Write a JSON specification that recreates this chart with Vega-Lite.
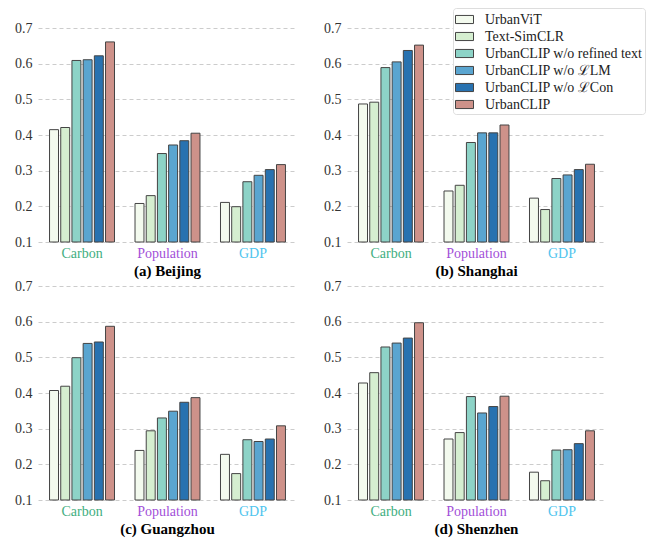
{
  "$schema": "https://vega.github.io/schema/vega-lite/v6.json",
  "padding": {"left": 14, "top": 7, "right": 5, "bottom": 4},
  "background": "white",
  "datasets": {
    "d": [
      {"city": "Beijing", "metric": "Carbon", "model": "UrbanViT", "value": 0.415},
      {"city": "Beijing", "metric": "Carbon", "model": "Text-SimCLR", "value": 0.421},
      {"city": "Beijing", "metric": "Carbon", "model": "UrbanCLIP w/o refined text", "value": 0.609},
      {"city": "Beijing", "metric": "Carbon", "model": "UrbanCLIP w/o ℒLM", "value": 0.611},
      {"city": "Beijing", "metric": "Carbon", "model": "UrbanCLIP w/o ℒCon", "value": 0.622},
      {"city": "Beijing", "metric": "Carbon", "model": "UrbanCLIP", "value": 0.661},
      {"city": "Beijing", "metric": "Population", "model": "UrbanViT", "value": 0.208},
      {"city": "Beijing", "metric": "Population", "model": "Text-SimCLR", "value": 0.230},
      {"city": "Beijing", "metric": "Population", "model": "UrbanCLIP w/o refined text", "value": 0.348},
      {"city": "Beijing", "metric": "Population", "model": "UrbanCLIP w/o ℒLM", "value": 0.372},
      {"city": "Beijing", "metric": "Population", "model": "UrbanCLIP w/o ℒCon", "value": 0.384},
      {"city": "Beijing", "metric": "Population", "model": "UrbanCLIP", "value": 0.405},
      {"city": "Beijing", "metric": "GDP", "model": "UrbanViT", "value": 0.211},
      {"city": "Beijing", "metric": "GDP", "model": "Text-SimCLR", "value": 0.199},
      {"city": "Beijing", "metric": "GDP", "model": "UrbanCLIP w/o refined text", "value": 0.269},
      {"city": "Beijing", "metric": "GDP", "model": "UrbanCLIP w/o ℒLM", "value": 0.287},
      {"city": "Beijing", "metric": "GDP", "model": "UrbanCLIP w/o ℒCon", "value": 0.303},
      {"city": "Beijing", "metric": "GDP", "model": "UrbanCLIP", "value": 0.317},
      {"city": "Shanghai", "metric": "Carbon", "model": "UrbanViT", "value": 0.487},
      {"city": "Shanghai", "metric": "Carbon", "model": "Text-SimCLR", "value": 0.492},
      {"city": "Shanghai", "metric": "Carbon", "model": "UrbanCLIP w/o refined text", "value": 0.589},
      {"city": "Shanghai", "metric": "Carbon", "model": "UrbanCLIP w/o ℒLM", "value": 0.605},
      {"city": "Shanghai", "metric": "Carbon", "model": "UrbanCLIP w/o ℒCon", "value": 0.637},
      {"city": "Shanghai", "metric": "Carbon", "model": "UrbanCLIP", "value": 0.652},
      {"city": "Shanghai", "metric": "Population", "model": "UrbanViT", "value": 0.243},
      {"city": "Shanghai", "metric": "Population", "model": "Text-SimCLR", "value": 0.259},
      {"city": "Shanghai", "metric": "Population", "model": "UrbanCLIP w/o refined text", "value": 0.379},
      {"city": "Shanghai", "metric": "Population", "model": "UrbanCLIP w/o ℒLM", "value": 0.406},
      {"city": "Shanghai", "metric": "Population", "model": "UrbanCLIP w/o ℒCon", "value": 0.406},
      {"city": "Shanghai", "metric": "Population", "model": "UrbanCLIP", "value": 0.428},
      {"city": "Shanghai", "metric": "GDP", "model": "UrbanViT", "value": 0.223},
      {"city": "Shanghai", "metric": "GDP", "model": "Text-SimCLR", "value": 0.191},
      {"city": "Shanghai", "metric": "GDP", "model": "UrbanCLIP w/o refined text", "value": 0.278},
      {"city": "Shanghai", "metric": "GDP", "model": "UrbanCLIP w/o ℒLM", "value": 0.288},
      {"city": "Shanghai", "metric": "GDP", "model": "UrbanCLIP w/o ℒCon", "value": 0.303},
      {"city": "Shanghai", "metric": "GDP", "model": "UrbanCLIP", "value": 0.318},
      {"city": "Guangzhou", "metric": "Carbon", "model": "UrbanViT", "value": 0.407},
      {"city": "Guangzhou", "metric": "Carbon", "model": "Text-SimCLR", "value": 0.419},
      {"city": "Guangzhou", "metric": "Carbon", "model": "UrbanCLIP w/o refined text", "value": 0.499},
      {"city": "Guangzhou", "metric": "Carbon", "model": "UrbanCLIP w/o ℒLM", "value": 0.539},
      {"city": "Guangzhou", "metric": "Carbon", "model": "UrbanCLIP w/o ℒCon", "value": 0.543},
      {"city": "Guangzhou", "metric": "Carbon", "model": "UrbanCLIP", "value": 0.587},
      {"city": "Guangzhou", "metric": "Population", "model": "UrbanViT", "value": 0.239},
      {"city": "Guangzhou", "metric": "Population", "model": "Text-SimCLR", "value": 0.294},
      {"city": "Guangzhou", "metric": "Population", "model": "UrbanCLIP w/o refined text", "value": 0.330},
      {"city": "Guangzhou", "metric": "Population", "model": "UrbanCLIP w/o ℒLM", "value": 0.349},
      {"city": "Guangzhou", "metric": "Population", "model": "UrbanCLIP w/o ℒCon", "value": 0.374},
      {"city": "Guangzhou", "metric": "Population", "model": "UrbanCLIP", "value": 0.387},
      {"city": "Guangzhou", "metric": "GDP", "model": "UrbanViT", "value": 0.228},
      {"city": "Guangzhou", "metric": "GDP", "model": "Text-SimCLR", "value": 0.174},
      {"city": "Guangzhou", "metric": "GDP", "model": "UrbanCLIP w/o refined text", "value": 0.269},
      {"city": "Guangzhou", "metric": "GDP", "model": "UrbanCLIP w/o ℒLM", "value": 0.264},
      {"city": "Guangzhou", "metric": "GDP", "model": "UrbanCLIP w/o ℒCon", "value": 0.271},
      {"city": "Guangzhou", "metric": "GDP", "model": "UrbanCLIP", "value": 0.308},
      {"city": "Shenzhen", "metric": "Carbon", "model": "UrbanViT", "value": 0.428},
      {"city": "Shenzhen", "metric": "Carbon", "model": "Text-SimCLR", "value": 0.457},
      {"city": "Shenzhen", "metric": "Carbon", "model": "UrbanCLIP w/o refined text", "value": 0.529},
      {"city": "Shenzhen", "metric": "Carbon", "model": "UrbanCLIP w/o ℒLM", "value": 0.540},
      {"city": "Shenzhen", "metric": "Carbon", "model": "UrbanCLIP w/o ℒCon", "value": 0.554},
      {"city": "Shenzhen", "metric": "Carbon", "model": "UrbanCLIP", "value": 0.597},
      {"city": "Shenzhen", "metric": "Population", "model": "UrbanViT", "value": 0.271},
      {"city": "Shenzhen", "metric": "Population", "model": "Text-SimCLR", "value": 0.289},
      {"city": "Shenzhen", "metric": "Population", "model": "UrbanCLIP w/o refined text", "value": 0.390},
      {"city": "Shenzhen", "metric": "Population", "model": "UrbanCLIP w/o ℒLM", "value": 0.344},
      {"city": "Shenzhen", "metric": "Population", "model": "UrbanCLIP w/o ℒCon", "value": 0.362},
      {"city": "Shenzhen", "metric": "Population", "model": "UrbanCLIP", "value": 0.391},
      {"city": "Shenzhen", "metric": "GDP", "model": "UrbanViT", "value": 0.178},
      {"city": "Shenzhen", "metric": "GDP", "model": "Text-SimCLR", "value": 0.154},
      {"city": "Shenzhen", "metric": "GDP", "model": "UrbanCLIP w/o refined text", "value": 0.240},
      {"city": "Shenzhen", "metric": "GDP", "model": "UrbanCLIP w/o ℒLM", "value": 0.241},
      {"city": "Shenzhen", "metric": "GDP", "model": "UrbanCLIP w/o ℒCon", "value": 0.258},
      {"city": "Shenzhen", "metric": "GDP", "model": "UrbanCLIP", "value": 0.294}
    ]
  },
  "columns": 2,
  "spacing": {"row": 0, "column": 26},
  "resolve": {"legend": {"color": "independent"}},
  "concat": [
    {
      "title": {"text": "(a) Beijing", "font": "Liberation Serif"},
      "width": 259, "height": 214,
      "data": {"name": "d"},
      "transform": [{"filter": "datum.city == 'Beijing'"}],
      "mark": {"type": "bar", "stroke": "#444", "strokeWidth": 1},
      "encoding": {
        "x": {"field": "metric", "type": "nominal", "sort": ["Carbon", "Population", "GDP"], "scale": {"paddingInner": 0.24, "paddingOuter": 0.135},
              "axis": {"labelFont": "Liberation Serif", "labelColor": {"condition": [{"test": "datum.value == 'Carbon'", "value": "#3fae80"}, {"test": "datum.value == 'Population'", "value": "#a24fd8"}], "value": "#4fc4ee"}}},
        "xOffset": {"field": "model", "type": "nominal", "sort": ["UrbanViT", "Text-SimCLR", "UrbanCLIP w/o refined text", "UrbanCLIP w/o ℒLM", "UrbanCLIP w/o ℒCon", "UrbanCLIP"], "scale": {"paddingInner": 0.2}},
        "y": {"field": "value", "type": "quantitative", "scale": {"domain": [0.1, 0.7], "zero": false}, "axis": {"labelFont": "Liberation Serif", "values": [0.1, 0.2, 0.3, 0.4, 0.5, 0.6, 0.7], "format": ".1f"}},
        "y2": {"datum": 0.1},
        "color": {"field": "model", "type": "nominal", "sort": ["UrbanViT", "Text-SimCLR", "UrbanCLIP w/o refined text", "UrbanCLIP w/o ℒLM", "UrbanCLIP w/o ℒCon", "UrbanCLIP"],
                  "scale": {"domain": ["UrbanViT", "Text-SimCLR", "UrbanCLIP w/o refined text", "UrbanCLIP w/o ℒLM", "UrbanCLIP w/o ℒCon", "UrbanCLIP"], "range": ["#f3faee", "#d5eed0", "#8dd3c7", "#5aa5d0", "#2872b0", "#ce928a"]},
                  "legend": null}
      }
    },
    {
      "title": {"text": "(b) Shanghai", "font": "Liberation Serif"},
      "width": 259, "height": 214,
      "data": {"name": "d"},
      "transform": [{"filter": "datum.city == 'Shanghai'"}],
      "mark": {"type": "bar", "stroke": "#444", "strokeWidth": 1},
      "encoding": {
        "x": {"field": "metric", "type": "nominal", "sort": ["Carbon", "Population", "GDP"], "scale": {"paddingInner": 0.24, "paddingOuter": 0.135},
              "axis": {"labelFont": "Liberation Serif", "labelColor": {"condition": [{"test": "datum.value == 'Carbon'", "value": "#3fae80"}, {"test": "datum.value == 'Population'", "value": "#a24fd8"}], "value": "#4fc4ee"}}},
        "xOffset": {"field": "model", "type": "nominal", "sort": ["UrbanViT", "Text-SimCLR", "UrbanCLIP w/o refined text", "UrbanCLIP w/o ℒLM", "UrbanCLIP w/o ℒCon", "UrbanCLIP"], "scale": {"paddingInner": 0.2}},
        "y": {"field": "value", "type": "quantitative", "scale": {"domain": [0.1, 0.7], "zero": false}, "axis": {"labelFont": "Liberation Serif", "values": [0.1, 0.2, 0.3, 0.4, 0.5, 0.6, 0.7], "format": ".1f"}},
        "y2": {"datum": 0.1},
        "color": {"field": "model", "type": "nominal", "sort": ["UrbanViT", "Text-SimCLR", "UrbanCLIP w/o refined text", "UrbanCLIP w/o ℒLM", "UrbanCLIP w/o ℒCon", "UrbanCLIP"],
                  "scale": {"domain": ["UrbanViT", "Text-SimCLR", "UrbanCLIP w/o refined text", "UrbanCLIP w/o ℒLM", "UrbanCLIP w/o ℒCon", "UrbanCLIP"], "range": ["#f3faee", "#d5eed0", "#8dd3c7", "#5aa5d0", "#2872b0", "#ce928a"]},
                  "legend": {"orient": "none", "legendX": 106, "legendY": -20, "title": null, "symbolType": "M-1,-0.45L1,-0.45L1,0.45L-1,0.45Z", "symbolSize": 324, "symbolStrokeColor": "#444", "symbolStrokeWidth": 1, "labelFont": "Liberation Serif", "labelFontSize": 14, "labelColor": "#222", "labelOffset": 11, "rowPadding": 0, "padding": 2, "fillColor": "white", "strokeColor": "#ddd", "cornerRadius": 3, "labelLimit": 300}}
      }
    },
    {
      "title": {"text": "(c) Guangzhou", "font": "Liberation Serif"},
      "width": 259, "height": 214,
      "data": {"name": "d"},
      "transform": [{"filter": "datum.city == 'Guangzhou'"}],
      "mark": {"type": "bar", "stroke": "#444", "strokeWidth": 1},
      "encoding": {
        "x": {"field": "metric", "type": "nominal", "sort": ["Carbon", "Population", "GDP"], "scale": {"paddingInner": 0.24, "paddingOuter": 0.135},
              "axis": {"labelFont": "Liberation Serif", "labelColor": {"condition": [{"test": "datum.value == 'Carbon'", "value": "#3fae80"}, {"test": "datum.value == 'Population'", "value": "#a24fd8"}], "value": "#4fc4ee"}}},
        "xOffset": {"field": "model", "type": "nominal", "sort": ["UrbanViT", "Text-SimCLR", "UrbanCLIP w/o refined text", "UrbanCLIP w/o ℒLM", "UrbanCLIP w/o ℒCon", "UrbanCLIP"], "scale": {"paddingInner": 0.2}},
        "y": {"field": "value", "type": "quantitative", "scale": {"domain": [0.1, 0.7], "zero": false}, "axis": {"labelFont": "Liberation Serif", "values": [0.1, 0.2, 0.3, 0.4, 0.5, 0.6, 0.7], "format": ".1f"}},
        "y2": {"datum": 0.1},
        "color": {"field": "model", "type": "nominal", "sort": ["UrbanViT", "Text-SimCLR", "UrbanCLIP w/o refined text", "UrbanCLIP w/o ℒLM", "UrbanCLIP w/o ℒCon", "UrbanCLIP"],
                  "scale": {"domain": ["UrbanViT", "Text-SimCLR", "UrbanCLIP w/o refined text", "UrbanCLIP w/o ℒLM", "UrbanCLIP w/o ℒCon", "UrbanCLIP"], "range": ["#f3faee", "#d5eed0", "#8dd3c7", "#5aa5d0", "#2872b0", "#ce928a"]},
                  "legend": null}
      }
    },
    {
      "title": {"text": "(d) Shenzhen", "font": "Liberation Serif"},
      "width": 259, "height": 214,
      "data": {"name": "d"},
      "transform": [{"filter": "datum.city == 'Shenzhen'"}],
      "mark": {"type": "bar", "stroke": "#444", "strokeWidth": 1},
      "encoding": {
        "x": {"field": "metric", "type": "nominal", "sort": ["Carbon", "Population", "GDP"], "scale": {"paddingInner": 0.24, "paddingOuter": 0.135},
              "axis": {"labelFont": "Liberation Serif", "labelColor": {"condition": [{"test": "datum.value == 'Carbon'", "value": "#3fae80"}, {"test": "datum.value == 'Population'", "value": "#a24fd8"}], "value": "#4fc4ee"}}},
        "xOffset": {"field": "model", "type": "nominal", "sort": ["UrbanViT", "Text-SimCLR", "UrbanCLIP w/o refined text", "UrbanCLIP w/o ℒLM", "UrbanCLIP w/o ℒCon", "UrbanCLIP"], "scale": {"paddingInner": 0.2}},
        "y": {"field": "value", "type": "quantitative", "scale": {"domain": [0.1, 0.7], "zero": false}, "axis": {"labelFont": "Liberation Serif", "values": [0.1, 0.2, 0.3, 0.4, 0.5, 0.6, 0.7], "format": ".1f"}},
        "y2": {"datum": 0.1},
        "color": {"field": "model", "type": "nominal", "sort": ["UrbanViT", "Text-SimCLR", "UrbanCLIP w/o refined text", "UrbanCLIP w/o ℒLM", "UrbanCLIP w/o ℒCon", "UrbanCLIP"],
                  "scale": {"domain": ["UrbanViT", "Text-SimCLR", "UrbanCLIP w/o refined text", "UrbanCLIP w/o ℒLM", "UrbanCLIP w/o ℒCon", "UrbanCLIP"], "range": ["#f3faee", "#d5eed0", "#8dd3c7", "#5aa5d0", "#2872b0", "#ce928a"]},
                  "legend": null}
      }
    }
  ],
  "config": {
    "font": "Liberation Serif",
    "view": {"stroke": null},
    "style": {"guide-label": {"font": "Liberation Serif"}, "group-title": {"font": "Liberation Serif"}},
    "axis": {"labelFont": "Liberation Serif", "labelFontSize": 14, "labelColor": "#333", "domain": false, "ticks": false, "title": null},
    "axisY": {"grid": true, "gridDash": [4, 3], "gridColor": "#ccc", "gridWidth": 1, "labelPadding": 6, "labelFont": "Liberation Serif"},
    "axisX": {"grid": false, "labelAngle": 0, "labelPadding": 4, "labelFont": "Liberation Serif"},
    "title": {"orient": "bottom", "font": "Liberation Serif", "fontSize": 15, "fontWeight": "bold", "color": "#000", "offset": 4, "anchor": "middle"}
  }
}
